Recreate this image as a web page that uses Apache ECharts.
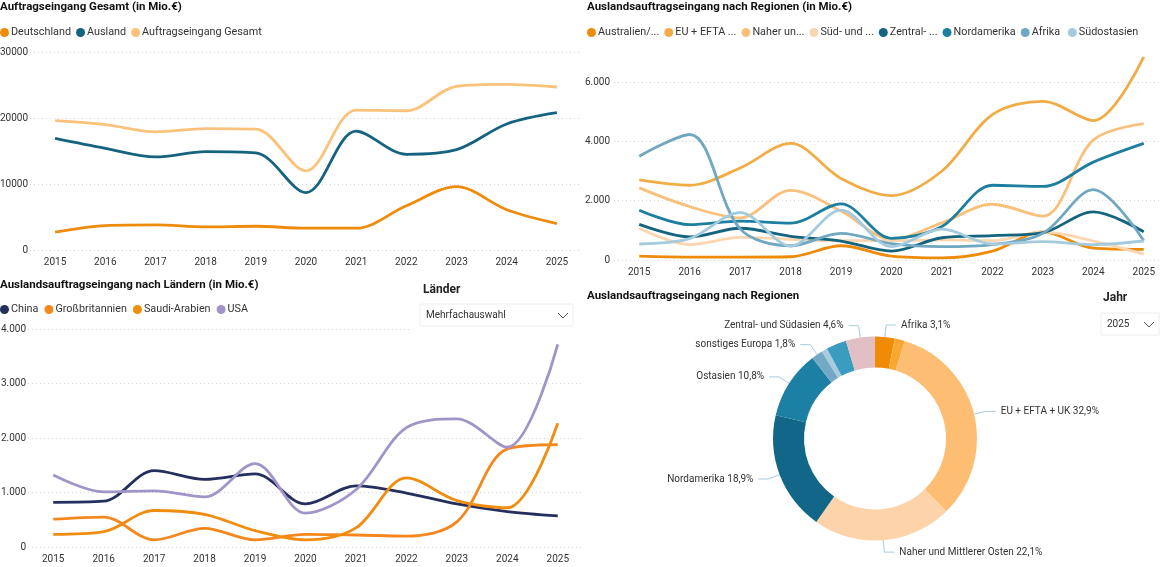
<!DOCTYPE html>
<html>
<head>
<meta charset="utf-8">
<script src="https://cdn.jsdelivr.net/npm/echarts@6/dist/echarts.min.js"></script>
<style>
  html, body { margin: 0; padding: 0; background: #fff; }
  #main { width: 1160px; height: 567px; }
</style>
</head>
<body>
<div id="main"></div>
<script>
const years = ['2015', '2016', '2017', '2018', '2019', '2020', '2021', '2022', '2023', '2024', '2025'];

// Auftragseingang Gesamt
const deutschland = [2700, 3700, 3800, 3500, 3600, 3300, 3300, 6700, 9600, 6100, 4000];
const ausland = [16900, 15400, 14100, 14900, 14700, 8700, 18000, 14500, 15200, 19100, 20800];
const gesamt = [19600, 19000, 17900, 18400, 18300, 12000, 21200, 21100, 24800, 25100, 24700];

// nach Regionen
const australien = [130, 100, 100, 110, 480, 130, 70, 300, 950, 400, 360];
const euEfta = [2700, 2520, 3100, 3930, 2750, 2170, 3000, 4900, 5350, 4700, 6850];
const naherOsten = [2430, 1800, 1420, 2350, 1650, 700, 1250, 1880, 1480, 4050, 4600];
const suedAsien = [1070, 520, 760, 700, 650, 650, 680, 650, 950, 640, 200];
const zentral = [1200, 780, 1070, 800, 640, 300, 750, 820, 920, 1620, 950];
const nordamerika = [1680, 1190, 1310, 1240, 1890, 730, 1130, 2520, 2480, 3300, 3930];
const afrika = [3500, 4230, 1050, 480, 900, 550, 450, 520, 900, 2370, 650];
const suedostasien = [540, 720, 1600, 470, 1680, 450, 1040, 540, 620, 520, 640];

// nach Ländern
const china = [820, 840, 1400, 1240, 1340, 790, 1120, 990, 790, 650, 570];
const grossbritannien = [510, 550, 130, 340, 130, 230, 220, 200, 460, 1800, 1880];
const saudiArabien = [230, 280, 670, 600, 300, 130, 350, 1270, 850, 720, 2270];
const usa = [1320, 1010, 1030, 920, 1530, 620, 1050, 2190, 2350, 1830, 3720];

// Donut 2025
const pieNames = ['Afrika', 'Australien', 'EU + EFTA + UK', 'Naher und Mittlerer Osten', 'Nordamerika', 'Ostasien', 'sonstiges Europa', 'Lateinamerika', 'Südostasien', 'Zentral- und Südasien'];
const pieValues = [3.1, 1.6, 32.9, 22.1, 18.9, 10.8, 1.8, 0.9, 3.2, 4.6];
const pieColors = ['#F18B06', '#F8A832', '#FDBD72', '#FDD3A9', '#126788', '#1C7FA4', '#74A9C6', '#A8CBDF', '#3A9CBE', '#E2BFC4'];
const pieNoLabel = ['Australien', 'Lateinamerika', 'Südostasien'];

const fontName = 'Roboto';
const chart = echarts.init(document.getElementById('main'));

const deNumber = v => String(v).replace(/\B(?=(\d{3})+$)/g, '.');

function xAxis(gridIndex) {
  return {
    type: 'category', gridIndex, data: years,
    axisLine: { show: false }, axisTick: { show: false },
    axisLabel: { color: '#333', fontSize: 10, fontFamily: fontName, margin: 7, interval: 0 }
  };
}

function yAxis(gridIndex, max, interval, fmt, margin) {
  return {
    type: 'value', gridIndex, min: 0, max, interval,
    axisLine: { show: false }, axisTick: { show: false },
    splitLine: { showMaxLine: max % interval === 0, lineStyle: { color: '#d4d4d4', type: [1, 3] } },
    axisLabel: { color: '#333', fontSize: 10, fontFamily: fontName, margin, formatter: fmt, showMaxLabel: max % interval === 0 }
  };
}

function line(name, data, color, idx) {
  return {
    name, type: 'line', data, xAxisIndex: idx, yAxisIndex: idx,
    smooth: 0.33, symbol: 'none',
    lineStyle: { color, width: 2.8 }, itemStyle: { color }
  };
}

function legend(left, top, names, itemGap) {
  return {
    left, top, data: names, icon: 'circle', itemWidth: 9, itemHeight: 9, itemGap,
    padding: 0, selectedMode: false,
    textStyle: { color: '#333', fontSize: 10.8, fontFamily: fontName, padding: [0, 0, 0, -3] }
  };
}

function title(text, left, top) {
  return { text, left, top, padding: 0, textStyle: { color: '#111', fontSize: 11.5, fontWeight: 'bold', fontFamily: fontName } };
}

function dropdown(x, y, w, label) {
  return [
    { type: 'rect', shape: { x, y, width: w, height: 22 }, style: { fill: '#fff', stroke: '#eeeeee', lineWidth: 1 }, z: 10 },
    { type: 'text', x: x + 6, y: y + 6, style: { text: label, fill: '#333', fontSize: 10, fontFamily: fontName }, z: 11 },
    { type: 'polyline', shape: { points: [[x + w - 15, y + 9], [x + w - 10, y + 14], [x + w - 5, y + 9]] }, style: { fill: 'none', stroke: '#555', lineWidth: 1 }, z: 11 }
  ];
}

const option = {
  backgroundColor: '#fff',
  animation: false,
  title: [
    title('Auftragseingang Gesamt (in Mio.€)', 0, 1),
    title('Auslandsauftragseingang nach Regionen (in Mio.€)', 587, 1),
    title('Auslandsauftragseingang nach Ländern (in Mio.€)', 0, 279),
    title('Auslandsauftragseingang nach Regionen', 587, 290)
  ],
  legend: [
    legend(0, 27, ['Deutschland', 'Ausland', 'Auftragseingang Gesamt'], 5),
    legend(587, 27, ['Australien/...', 'EU + EFTA ...', 'Naher un...', 'Süd- und ...', 'Zentral- ...', 'Nordamerika', 'Afrika ', 'Südostasien'], 5),
    legend(0, 304, ['China', 'Großbritannien', 'Saudi-Arabien', 'USA'], 6)
  ],
  grid: [
    { left: 30, top: 52, width: 552, height: 198, outerBoundsMode: 'none' },
    { left: 614, top: 55.3, width: 555, height: 204.7, outerBoundsMode: 'none' },
    { left: 28, top: 329, width: 555, height: 218, outerBoundsMode: 'none' }
  ],
  xAxis: [xAxis(0), xAxis(1), xAxis(2)],
  yAxis: [
    yAxis(0, 30000, 10000, v => String(v), 2),
    yAxis(1, 6900, 2000, deNumber, 4),
    yAxis(2, 4000, 1000, deNumber, 2)
  ],
  series: [
    line('Deutschland', deutschland, '#EE8B0B', 0),
    line('Ausland', ausland, '#16637F', 0),
    line('Auftragseingang Gesamt', gesamt, '#FAC27A', 0),

    line('Australien/...', australien, '#EE8B0B', 1),
    line('EU + EFTA ...', euEfta, '#F2AC46', 1),
    line('Naher un...', naherOsten, '#F9C07C', 1),
    line('Süd- und ...', suedAsien, '#FBD6B0', 1),
    line('Zentral- ...', zentral, '#15647F', 1),
    line('Nordamerika', nordamerika, '#1D7F9F', 1),
    line('Afrika ', afrika, '#6FA8C0', 1),
    line('Südostasien', suedostasien, '#A4CADE', 1),

    line('China', china, '#252F5E', 2),
    line('Großbritannien', grossbritannien, '#F5871F', 2),
    line('Saudi-Arabien', saudiArabien, '#F08C0E', 2),
    line('USA', usa, '#A094C8', 2),

    {
      type: 'pie',
      center: [875, 438.5],
      radius: [71, 102],
      startAngle: 90,
      clockwise: true,
      avoidLabelOverlap: false,
      data: pieNames.map((name, i) => ({
        name,
        value: pieValues[i],
        itemStyle: { color: pieColors[i] },
        label: { show: !pieNoLabel.includes(name) },
        labelLine: { show: !pieNoLabel.includes(name) }
      })),
      label: {
        color: '#333', fontSize: 10, fontFamily: fontName,
        formatter: p => p.name + ' ' + String(p.value.toFixed(1)).replace('.', ',') + '%'
      },
      labelLine: { length: 12, length2: 10, lineStyle: { color: '#A8CBDF', width: 1 } }
    }
  ],
  graphic: [
    { type: 'rect', shape: { x: 412, y: 326, width: 170, height: 6 }, style: { fill: '#fff' }, z: 9 },
    { type: 'text', x: 423, y: 284, style: { text: 'Länder', fill: '#222', fontSize: 12, fontWeight: 'bold', fontFamily: fontName }, z: 11 },
    ...dropdown(420, 304, 153, 'Mehrfachauswahl'),
    { type: 'text', x: 1103, y: 292, style: { text: 'Jahr', fill: '#222', fontSize: 12, fontWeight: 'bold', fontFamily: fontName }, z: 11 },
    ...dropdown(1101, 313, 58, '2025')
  ]
};

chart.setOption(option);
</script>
</body>
</html>
